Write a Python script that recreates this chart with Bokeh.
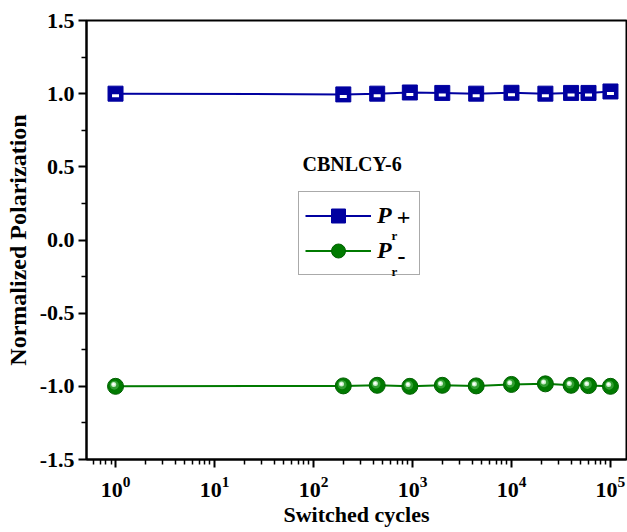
from bokeh.plotting import figure
from bokeh.models import (FixedTicker, Range1d, Legend, LegendItem, Label,
                          PrintfTickFormatter)
from bokeh.embed import file_html
from bokeh.resources import INLINE
import math

# ---- data ----
cycles = [1, 200, 440, 940, 2000, 4400, 10000, 22000, 40000, 60000, 100000]
pr_plus = [1.000, 0.995, 1.000, 1.008, 1.005, 1.000, 1.006, 1.000, 1.005, 1.005, 1.015]
pr_minus = [-1.000, -0.997, -0.993, -1.000, -0.993, -0.997, -0.987, -0.983, -0.993, -0.995, -1.000]
x_ticks = [1, 10, 100, 1000, 10000, 100000]
y_ticks = [-1.5, -1.0, -0.5, 0.0, 0.5, 1.0, 1.5]
y_minor = [-1.25, -0.75, -0.25, 0.25, 0.75, 1.25]
sample_name = "CBNLCY-6"
x_title = "Switched cycles"
y_title = "Normalized Polarization"

BLUE = "#0000A0"
GREEN = "#007A00"
FONT = "Liberation Serif"

X0, X1 = 0.509, 1.452e5
Y0, Y1 = -1.5, 1.5
FRAME_W, FRAME_H = 540, 439

p = figure(width=627, height=532, x_axis_type="log",
           x_range=Range1d(X0, X1), y_range=Range1d(Y0, Y1),
           output_backend="svg", toolbar_location=None,
           min_border_left=86, min_border_right=1,
           min_border_top=20, min_border_bottom=73)
p.grid.visible = False
p.outline_line_color = "black"
p.outline_line_width = 2
p.background_fill_color = "white"
p.border_fill_color = "white"

# px -> data conversion helpers (for marker shading offsets)
py = (Y1 - Y0) / FRAME_H
decade_px = FRAME_W / (math.log10(X1) - math.log10(X0))
def xshift(px):
    return 10 ** (px / decade_px)

# ---- series ----
l1 = p.line(cycles, pr_plus, line_color=BLUE, line_width=2)
sq = p.scatter(cycles, pr_plus, marker="square", size=15,
               fill_color=BLUE, line_color=BLUE, line_width=1)
p.scatter(cycles, [v - 2 * py for v in pr_plus], marker="dash", size=7,
          line_color="white", line_width=3)

l2 = p.line(cycles, pr_minus, line_color=GREEN, line_width=2)
c1 = p.scatter(cycles, pr_minus, marker="circle", size=16,
               fill_color=GREEN, line_color="#006000", line_width=1)
p.scatter([c * xshift(-1.2) for c in cycles], [v + 1.2 * py for v in pr_minus],
          marker="circle", size=9, fill_color="#3da83d", line_color=None, fill_alpha=0.8)
p.scatter([c * xshift(-1.8) for c in cycles], [v + 1.8 * py for v in pr_minus],
          marker="circle", size=5, fill_color="#c8f0c8", line_color=None)
p.scatter([c * xshift(-2) for c in cycles], [v + 2 * py for v in pr_minus],
          marker="circle", size=2.5, fill_color="white", line_color=None)

# ---- axes ----
x_minor = [m * 10 ** e for e in range(-1, 6) for m in range(2, 10)]
p.xaxis.ticker = FixedTicker(ticks=x_ticks, minor_ticks=x_minor)
p.yaxis.ticker = FixedTicker(ticks=y_ticks, minor_ticks=y_minor)
p.yaxis.formatter = PrintfTickFormatter(format="%.1f")

for ax in (p.xaxis[0], p.yaxis[0]):
    ax.axis_line_width = 2
    ax.major_tick_line_width = 2
    ax.minor_tick_line_width = 1.5
    ax.major_tick_in = 0
    ax.major_tick_out = 8
    ax.minor_tick_in = 0
    ax.minor_tick_out = 5
    ax.major_label_text_font = FONT
    ax.major_label_text_font_style = "bold"
    ax.major_label_text_font_size = "22px"
    ax.major_label_text_color = "black"
    ax.axis_label_text_font = FONT
    ax.axis_label_text_font_style = "bold"
    ax.axis_label_text_color = "black"

p.xaxis.axis_label = x_title
p.yaxis.axis_label = y_title
p.xaxis.axis_label_text_font_size = "22px"
p.yaxis.axis_label_text_font_size = "24px"
p.yaxis.axis_label_standoff = 6
p.xaxis.axis_label_standoff = 2
p.xaxis.major_label_standoff = 9
p.yaxis.major_label_standoff = 4

# ---- legend ----
legend = Legend(items=[LegendItem(label="P", renderers=[l1, sq]),
                       LegendItem(label="P", renderers=[l2, c1])],
                location=(212, 184), margin=0, padding=6, spacing=0,
                glyph_width=66, glyph_height=35, label_standoff=6,
                label_width=36, label_height=35,
                border_line_color="#555555", border_line_width=1,
                label_text_font=FONT, label_text_font_style="bold italic",
                label_text_font_size="24px", label_text_color="black",
                background_fill_alpha=0)
p.add_layout(legend)

def lab(x, y, text, size, style="bold", align="left", baseline="alphabetic"):
    p.add_layout(Label(x=x, y=y, x_units="screen", y_units="screen", text=text,
                       text_font=FONT, text_font_style=style,
                       text_font_size=size, text_align=align,
                       text_baseline=baseline, text_color="black",
                       level="overlay"))

lab(216, 296, sample_name, "20px", baseline="middle")
lab(305, 224, "r", "13px")
lab(305, 188, "r", "13px")
lab(317, 242, "+", "24px", align="center", baseline="middle")
lab(315, 203, "-", "24px", align="center", baseline="middle")

open("out.html", "w").write(file_html(p, INLINE))
